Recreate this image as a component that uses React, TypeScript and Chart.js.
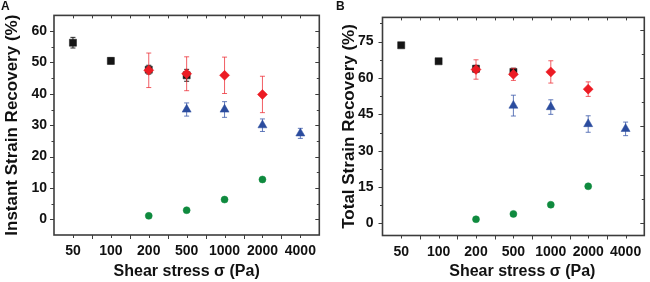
import React, { useEffect, useRef } from 'react';
import { Chart, registerables } from 'chart.js';

Chart.register(...registerables);

// ---------- data ----------
const categories = ['50', '100', '200', '500', '1000', '2000', '4000'];

// Panel A – instant strain recovery (%)
const instantBlack = [56.3, 50.5, 47.7, 45.9, null, null, null];
const instantBlackErr = [1.7, 0.9, 1.4, 1.9, null, null, null];
const instantRed = [null, null, 47.5, 46.4, 45.9, 39.8, null];
const instantRedErr = [null, null, 5.5, 5.4, 5.8, 5.8, null];
const instantBlue = [null, null, null, 35.0, 35.0, 30.0, 27.4];
const instantBlueErr = [null, null, null, 2.1, 2.5, 2.0, 1.6];
const instantGreen = [null, null, 1.1, 2.9, 6.3, 12.7, null];

// Panel B – total strain recovery (%)
const totalBlack = [73.5, 66.9, 63.8, 62.5, null, null, null];
const totalBlackErr = [0.8, 0.8, 1.4, 1.5, null, null, null];
const totalRed = [null, null, 63.5, 61.5, 62.5, 55.4, null];
const totalRedErr = [null, null, 4.0, 2.5, 4.6, 3.0, null];
const totalBlue = [null, null, null, 48.6, 48.0, 41.0, 39.0];
const totalBlueErr = [null, null, null, 4.3, 3.0, 3.4, 2.8];
const totalGreen = [null, null, 1.7, 3.9, 7.7, 15.3, null];

// axis ticks
const yTicksA = [0, 10, 20, 30, 40, 50, 60];
const yMinorA = [-5, 5, 15, 25, 35, 45, 55, 65];
const yTicksB = [0, 15, 30, 45, 60, 75];
const yMinorB = [7.5, 22.5, 37.5, 52.5, 67.5, 82.5];
const yRightMajorB = [0, 20, 40, 60, 80];
const yRightMinorB = [10, 30, 50, 70];

// ---------- styles ----------
const FONT = "'Liberation Sans', Arial, Helvetica, sans-serif";
const AXIS_COLOR = '#3c3c3c';
const BLACK = '#151515';
const RED = '#ec1c24';
const BLUE = '#2b4c9e';
const GREEN = '#0f8a3e';

type Num = number | null;

function makeErrorPlugin(errs: (Num[] | null)[], colors: string[]) {
  return {
    id: 'errorbars',
    beforeDatasetDraw(chart: any, args: any) {
      const i = args.index;
      const err = errs[i];
      if (!err) return;
      const ds = chart.data.datasets[i];
      const meta = args.meta;
      const ys = chart.scales.y;
      const ctx = chart.ctx;
      ctx.save();
      ctx.strokeStyle = colors[i];
      ctx.lineWidth = 1;
      meta.data.forEach((pt: any, j: number) => {
        const v = ds.data[j];
        const e = err[j];
        if (v == null || e == null) return;
        const x = pt.x;
        const y1 = ys.getPixelForValue(v + e);
        const y2 = ys.getPixelForValue(v - e);
        ctx.beginPath();
        ctx.moveTo(x, y1);
        ctx.lineTo(x, y2);
        ctx.moveTo(x - 2.5, y1);
        ctx.lineTo(x + 2.5, y1);
        ctx.moveTo(x - 2.5, y2);
        ctx.lineTo(x + 2.5, y2);
        ctx.stroke();
      });
      ctx.restore();
    },
  };
}

function makeFramePlugin(cfg: {
  leftMajor: number[];
  leftMinor: number[];
  rightMajor: number[];
  rightMinor: number[];
}) {
  return {
    id: 'frame',
    afterDraw(chart: any) {
      const { ctx } = chart;
      const { left, right, top, bottom } = chart.chartArea;
      const ys = chart.scales.y;
      const xs = chart.scales.x;
      ctx.save();
      ctx.strokeStyle = AXIS_COLOR;
      ctx.lineWidth = 1;
      const seg = (x1: number, y1: number, x2: number, y2: number) => {
        ctx.beginPath();
        ctx.moveTo(x1, y1);
        ctx.lineTo(x2, y2);
        ctx.stroke();
      };
      cfg.leftMajor.forEach((v) => {
        const p = Math.round(ys.getPixelForValue(v)) + 0.5;
        seg(left - 4, p, left, p);
      });
      cfg.leftMinor.forEach((v) => {
        const p = Math.round(ys.getPixelForValue(v)) + 0.5;
        if (p > top + 1 && p < bottom - 1) seg(left - 2.5, p, left, p);
      });
      cfg.rightMajor.forEach((v) => {
        const p = Math.round(ys.getPixelForValue(v)) + 0.5;
        seg(right, p, right - 4, p);
      });
      cfg.rightMinor.forEach((v) => {
        const p = Math.round(ys.getPixelForValue(v)) + 0.5;
        if (p > top + 1 && p < bottom - 1) seg(right, p, right - 2.5, p);
      });
      for (let i = 0; i < categories.length; i++) {
        const c = Math.round(xs.getPixelForValue(i)) + 0.5;
        seg(c, bottom, c, bottom + 3);
        seg(c, top, c, top + 3);
        if (i > 0) {
          const b = Math.round(xs.getPixelForValue(i - 0.5)) + 0.5;
          seg(b, bottom, b, bottom + 4);
          seg(b, top, b, top + 3);
        }
      }
      ctx.lineWidth = 1.6;
      ctx.strokeRect(left, top, right - left, bottom - top);
      ctx.restore();
    },
  };
}

function makeConfig(opts: {
  black: Num[];
  red: Num[];
  blue: Num[];
  green: Num[];
  errs: (Num[] | null)[];
  yMin: number;
  yMax: number;
  yTicks: number[];
  yTitle: string;
  xTitle: string;
  yAxisWidth: number;
  yTitlePad: number;
  yTickPad: number;
  padTop: number;
  padRight: number;
  xAxisHeight: number;
  frame: any;
}) {
  const datasets = [
    {
      label: 'green',
      data: opts.green,
      pointStyle: 'circle',
      pointRadius: 3.5,
      backgroundColor: GREEN,
      borderColor: GREEN,
      borderWidth: 0.5,
    },
    {
      label: 'red',
      data: opts.red,
      pointStyle: 'rectRot',
      pointRadius: 5,
      backgroundColor: RED,
      borderColor: RED,
      borderWidth: 0.5,
    },
    {
      label: 'blue',
      data: opts.blue,
      pointStyle: 'triangle',
      pointRadius: 5.2,
      backgroundColor: BLUE,
      borderColor: BLUE,
      borderWidth: 0.5,
    },
    {
      label: 'black',
      data: opts.black,
      pointStyle: 'rect',
      pointRadius: 5,
      backgroundColor: BLACK,
      borderColor: BLACK,
      borderWidth: 0.5,
    },
  ].map((d) => ({ ...d, showLine: false, pointHoverRadius: d.pointRadius }));

  const errColors = ['rgba(15,138,62,0.8)', 'rgba(236,40,48,0.75)', 'rgba(60,90,170,0.8)', 'rgba(20,20,20,0.9)'];

  return {
    type: 'line' as const,
    data: { labels: categories, datasets },
    options: {
      responsive: false,
      animation: false as const,
      layout: { padding: { top: opts.padTop, right: opts.padRight, left: 0, bottom: 0 } },
      plugins: { legend: { display: false }, tooltip: { enabled: false } },
      scales: {
        x: {
          type: 'category' as const,
          offset: true,
          grid: { display: false, drawTicks: false },
          border: { display: false },
          ticks: { color: '#111', font: { family: FONT, size: 14, weight: 'bold' as const }, padding: 8, maxRotation: 0, autoSkip: false },
          title: {
            display: true,
            text: opts.xTitle,
            color: '#111',
            font: { family: FONT, size: 16, weight: 'bold' as const },
            padding: { top: 0, bottom: 1 },
          },
          afterFit: (s: any) => {
            s.height = opts.xAxisHeight;
          },
        },
        y: {
          min: opts.yMin,
          max: opts.yMax,
          grid: { display: false, drawTicks: false },
          border: { display: false },
          afterBuildTicks: (s: any) => {
            s.ticks = opts.yTicks.map((v) => ({ value: v }));
          },
          ticks: { color: '#111', font: { family: FONT, size: 14, weight: 'bold' as const }, padding: opts.yTickPad },
          title: {
            display: true,
            text: opts.yTitle,
            color: '#111',
            font: { family: FONT, size: 17, weight: 'bold' as const },
            padding: { top: opts.yTitlePad, bottom: 0 },
          },
          afterFit: (s: any) => {
            s.width = opts.yAxisWidth;
          },
        },
      },
    },
    plugins: [makeErrorPlugin(opts.errs, errColors), makeFramePlugin(opts.frame)],
  };
}

export default function App() {
  const refA = useRef<HTMLCanvasElement>(null);
  const refB = useRef<HTMLCanvasElement>(null);

  useEffect(() => {
    document.body.style.margin = '0';
    const a = new Chart(
      refA.current as HTMLCanvasElement,
      makeConfig({
        black: instantBlack,
        red: instantRed,
        blue: instantBlue,
        green: instantGreen,
        errs: [null, instantRedErr, instantBlueErr, instantBlackErr],
        yMin: -5,
        yMax: 65,
        yTicks: yTicksA,
        yTitle: 'Instant Strain Recovery (%)',
        xTitle: 'Shear stress σ (Pa)',
        yAxisWidth: 54,
        yTitlePad: 2.5,
        yTickPad: 7,
        padTop: 10,
        padRight: 3,
        xAxisHeight: 47,
        frame: { leftMajor: yTicksA, leftMinor: yMinorA, rightMajor: yTicksA, rightMinor: yMinorA },
      }) as any
    );
    const b = new Chart(
      refB.current as HTMLCanvasElement,
      makeConfig({
        black: totalBlack,
        red: totalRed,
        blue: totalBlue,
        green: totalGreen,
        errs: [null, totalRedErr, totalBlueErr, totalBlackErr],
        yMin: -5,
        yMax: 85,
        yTicks: yTicksB,
        yTitle: 'Total Strain Recovery (%)',
        xTitle: '    Shear stress σ (Pa)',
        yAxisWidth: 57.5,
        yTitlePad: 14,
        yTickPad: 9,
        padTop: 12,
        padRight: 1.5,
        xAxisHeight: 46.5,
        frame: { leftMajor: yTicksB, leftMinor: yMinorB, rightMajor: yRightMajorB, rightMinor: yRightMinorB },
      }) as any
    );
    return () => {
      a.destroy();
      b.destroy();
    };
  }, []);

  const label: React.CSSProperties = {
    position: 'absolute',
    top: 0,
    fontFamily: FONT,
    fontWeight: 'bold',
    fontSize: 12,
    lineHeight: '12px',
    color: '#111',
  };

  return (
    <div style={{ position: 'absolute', left: 0, top: 0, width: 650, height: 282, background: '#fff' }}>
      <canvas ref={refA} width={325} height={282} style={{ position: 'absolute', left: 0, top: 0 }} />
      <canvas ref={refB} width={325} height={282} style={{ position: 'absolute', left: 325, top: 0 }} />
      <div style={{ ...label, left: 1 }}>A</div>
      <div style={{ ...label, left: 336 }}>B</div>
    </div>
  );
}
